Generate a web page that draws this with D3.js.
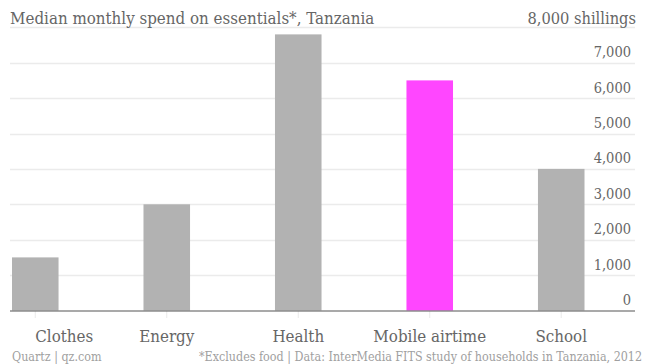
<!DOCTYPE html>
<html>
<head>
<meta charset="utf-8">
<script src="https://cdn.jsdelivr.net/npm/d3@7"></script>
<style>
  html, body { margin: 0; padding: 0; background: #fff; }
  svg { display: block; }
  text { font-family: "DejaVu Serif Condensed", "DejaVu Serif", serif; font-stretch: semi-condensed; }
</style>
</head>
<body>
<svg id="chart" width="645" height="364"></svg>
<script>
const categories = ["Clothes", "Energy", "Health", "Mobile airtime", "School"];
const values = [1500, 3000, 7800, 6500, 4000];
const highlight = ["Mobile airtime"];
const yTicks = [0, 1000, 2000, 3000, 4000, 5000, 6000, 7000];
const yMax = 8000;
const title = "Median monthly spend on essentials*, Tanzania";
const unitLabel = "8,000 shillings";
const credit = "Quartz | qz.com";
const note = "*Excludes food | Data: InterMedia FITS study of households in Tanzania, 2012";

const svg = d3.select("#chart");
const left = 10, right = 635;

const x = d3.scaleBand().domain(categories).range([12, 584.5]).paddingInner(0.646).paddingOuter(0);
const y = d3.scaleLinear().domain([0, yMax]).range([310.5, 27.3]);
const fmt = d3.format(",");

// gridlines
svg.append("g").selectAll("line").data(yTicks.filter(d => d > 0).concat([yMax])).join("line")
  .attr("x1", left).attr("x2", right)
  .attr("y1", d => Math.round(y(d)) + 0.5).attr("y2", d => Math.round(y(d)) + 0.5)
  .attr("stroke", "#ebebeb").attr("stroke-width", 1.5);

// x tick marks
svg.append("g").selectAll("line").data(categories).join("line")
  .attr("x1", d => x(d) + x.bandwidth() / 2).attr("x2", d => x(d) + x.bandwidth() / 2)
  .attr("y1", 311).attr("y2", 318)
  .attr("stroke", "#eaeaea").attr("stroke-width", 1);

// bars
svg.append("g").selectAll("rect").data(categories).join("rect")
  .attr("x", d => x(d)).attr("width", x.bandwidth())
  .attr("y", (d, i) => y(values[i])).attr("height", (d, i) => y(0) - y(values[i]))
  .attr("fill", d => highlight.includes(d) ? "#ff46ff" : "#b2b2b2");

// baseline
svg.append("line").attr("x1", left).attr("x2", right).attr("y1", 311).attr("y2", 311)
  .attr("stroke", "#555").attr("stroke-width", 1.2);

// y tick labels
svg.append("g").selectAll("text").data(yTicks).join("text")
  .attr("x", 631).attr("y", d => y(d) - 5.5)
  .attr("text-anchor", "end").attr("fill", "#666").attr("font-size", 14.5)
  .text(d => fmt(d));

// unit label
svg.append("text").attr("x", 636).attr("y", 24).attr("text-anchor", "end")
  .attr("fill", "#666").attr("font-size", 16.3).text(unitLabel);

// title
svg.append("text").attr("x", 10).attr("y", 24).attr("fill", "#666").attr("font-size", 16.8)
  .text(title);

// category labels
svg.append("g").selectAll("text").data(categories).join("text")
  .attr("x", d => x(d) + x.bandwidth() / 2).attr("y", 341.5)
  .attr("text-anchor", (d, i) => i === 0 ? "start" : "middle")
  .attr("fill", "#666").attr("font-size", 16.8)
  .text(d => d);

// footer
svg.append("text").attr("x", 12).attr("y", 361).attr("fill", "#a0a0a0").attr("font-size", 12.4).text(credit);
svg.append("text").attr("x", 642).attr("y", 361).attr("text-anchor", "end").attr("fill", "#a0a0a0").attr("font-size", 12.4).text(note);
</script>
</body>
</html>
